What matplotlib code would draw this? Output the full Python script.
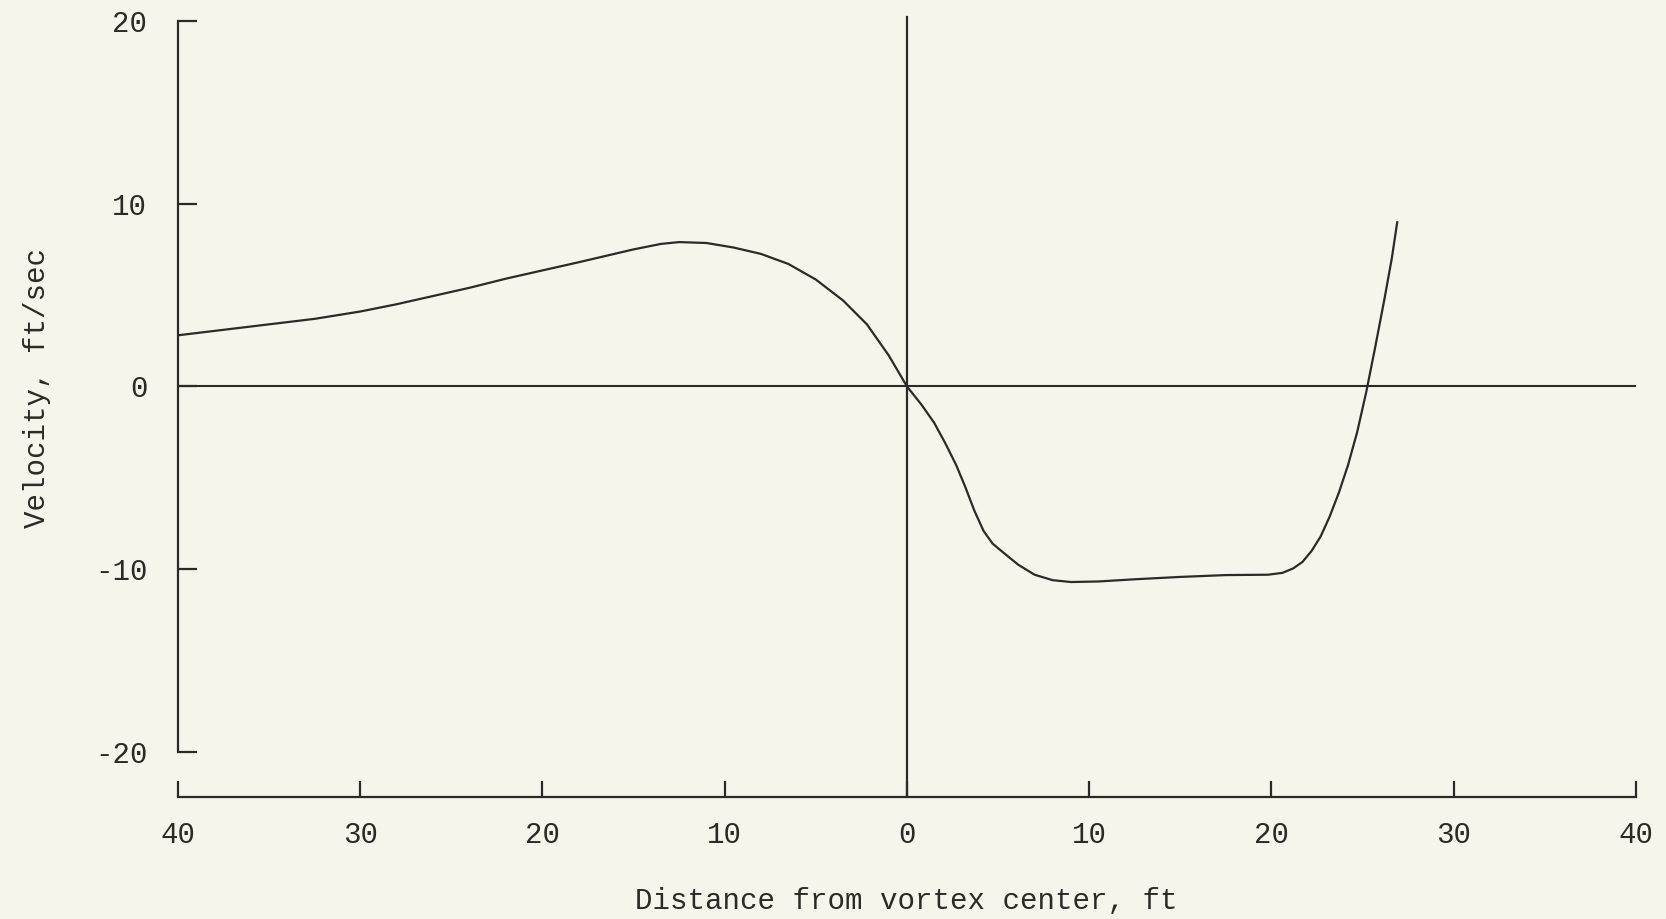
import matplotlib
matplotlib.use('Agg')
from matplotlib import pyplot as plt

# velocity profile across the vortex (ft from center, ft/sec)
distance = [-40, -37.5, -35, -32.5, -30, -28, -26, -24, -22, -20, -18, -16.5, -15, -13.5, -12.5,
            -11, -9.5, -8, -6.5, -5, -3.5, -2.2, -1, 0,
            0.8, 1.5, 2.1, 2.7, 3.2, 3.7, 4.2, 4.7, 5.3, 6.1, 7.0, 8.0, 9.0, 10.5, 12.5, 15, 17.5,
            19.8, 20.6, 21.2, 21.7, 22.2, 22.7, 23.2, 23.7, 24.2, 24.7, 25.2, 25.7, 26.2, 26.6, 26.9]
velocity = [2.8, 3.1, 3.4, 3.7, 4.1, 4.5, 4.95, 5.4, 5.9, 6.35, 6.8, 7.15, 7.5, 7.8, 7.9,
            7.85, 7.6, 7.25, 6.7, 5.85, 4.7, 3.4, 1.7, 0,
            -1.0, -2.0, -3.1, -4.3, -5.5, -6.8, -7.9, -8.6, -9.1, -9.75, -10.3, -10.6, -10.7, -10.67, -10.55, -10.42, -10.32,
            -10.3, -10.2, -9.95, -9.6, -9.0, -8.2, -7.1, -5.8, -4.3, -2.5, -0.3, 2.2, 4.8, 7.0, 9.0]

x_ticks = [-40, -30, -20, -10, 0, 10, 20, 30, 40]
x_labels = ['40', '30', '20', '10', '0', '10', '20', '30', '40']
y_ticks = [-20, -10, 0, 10, 20]
y_labels = ['-20', '-10', '0', '10', '20']

INK = '#2b2a28'
PAPER = '#f5f5ec'
FONT = 'Liberation Mono'

plt.rcParams['font.family'] = FONT

fig = plt.figure(dpi=100, figsize=(16.66, 9.19), facecolor=PAPER)
ax = fig.add_axes([0.1068, 0.1328, 0.8752, 0.8643])
ax.set_facecolor(PAPER)

# reference lines through the vortex center
ax.axhline(0, color=INK, lw=1.5)
ax.plot([0, 0], [-22.46, 20.2], color=INK, lw=1.6)

ax.plot(distance, velocity, color=INK, lw=1.6, solid_joinstyle='round', solid_capstyle='round')

ax.set_xlim(-40, 40)
ax.set_ylim(-22.46, 21)

for side in ['top', 'right']:
    ax.spines[side].set_visible(False)
ax.spines['left'].set_bounds(-20, 20)
ax.spines['bottom'].set_bounds(-40, 40)
for side in ['left', 'bottom']:
    ax.spines[side].set_color(INK)
    ax.spines[side].set_linewidth(1.6)

ax.set_xticks(x_ticks)
ax.set_xticklabels(x_labels)
ax.set_yticks(y_ticks)
ax.set_yticklabels(y_labels)
ax.tick_params(axis='y', direction='in', length=14, width=1.6, color=INK, pad=22,
               labelsize=21, labelcolor=INK)
ax.tick_params(axis='x', direction='in', length=11.5, width=1.6, color=INK, pad=17,
               labelsize=21, labelcolor=INK)

fig.text(37 / 1666, 1 - 388 / 919, 'Velocity, ft/sec', rotation=90, ha='center', va='center',
         fontsize=21, color=INK)
fig.text(906 / 1666, 1 - 901 / 919, 'Distance from vortex center, ft', ha='center', va='center',
         fontsize=21, color=INK)

plt.savefig('out.png', dpi=100, facecolor=PAPER)
